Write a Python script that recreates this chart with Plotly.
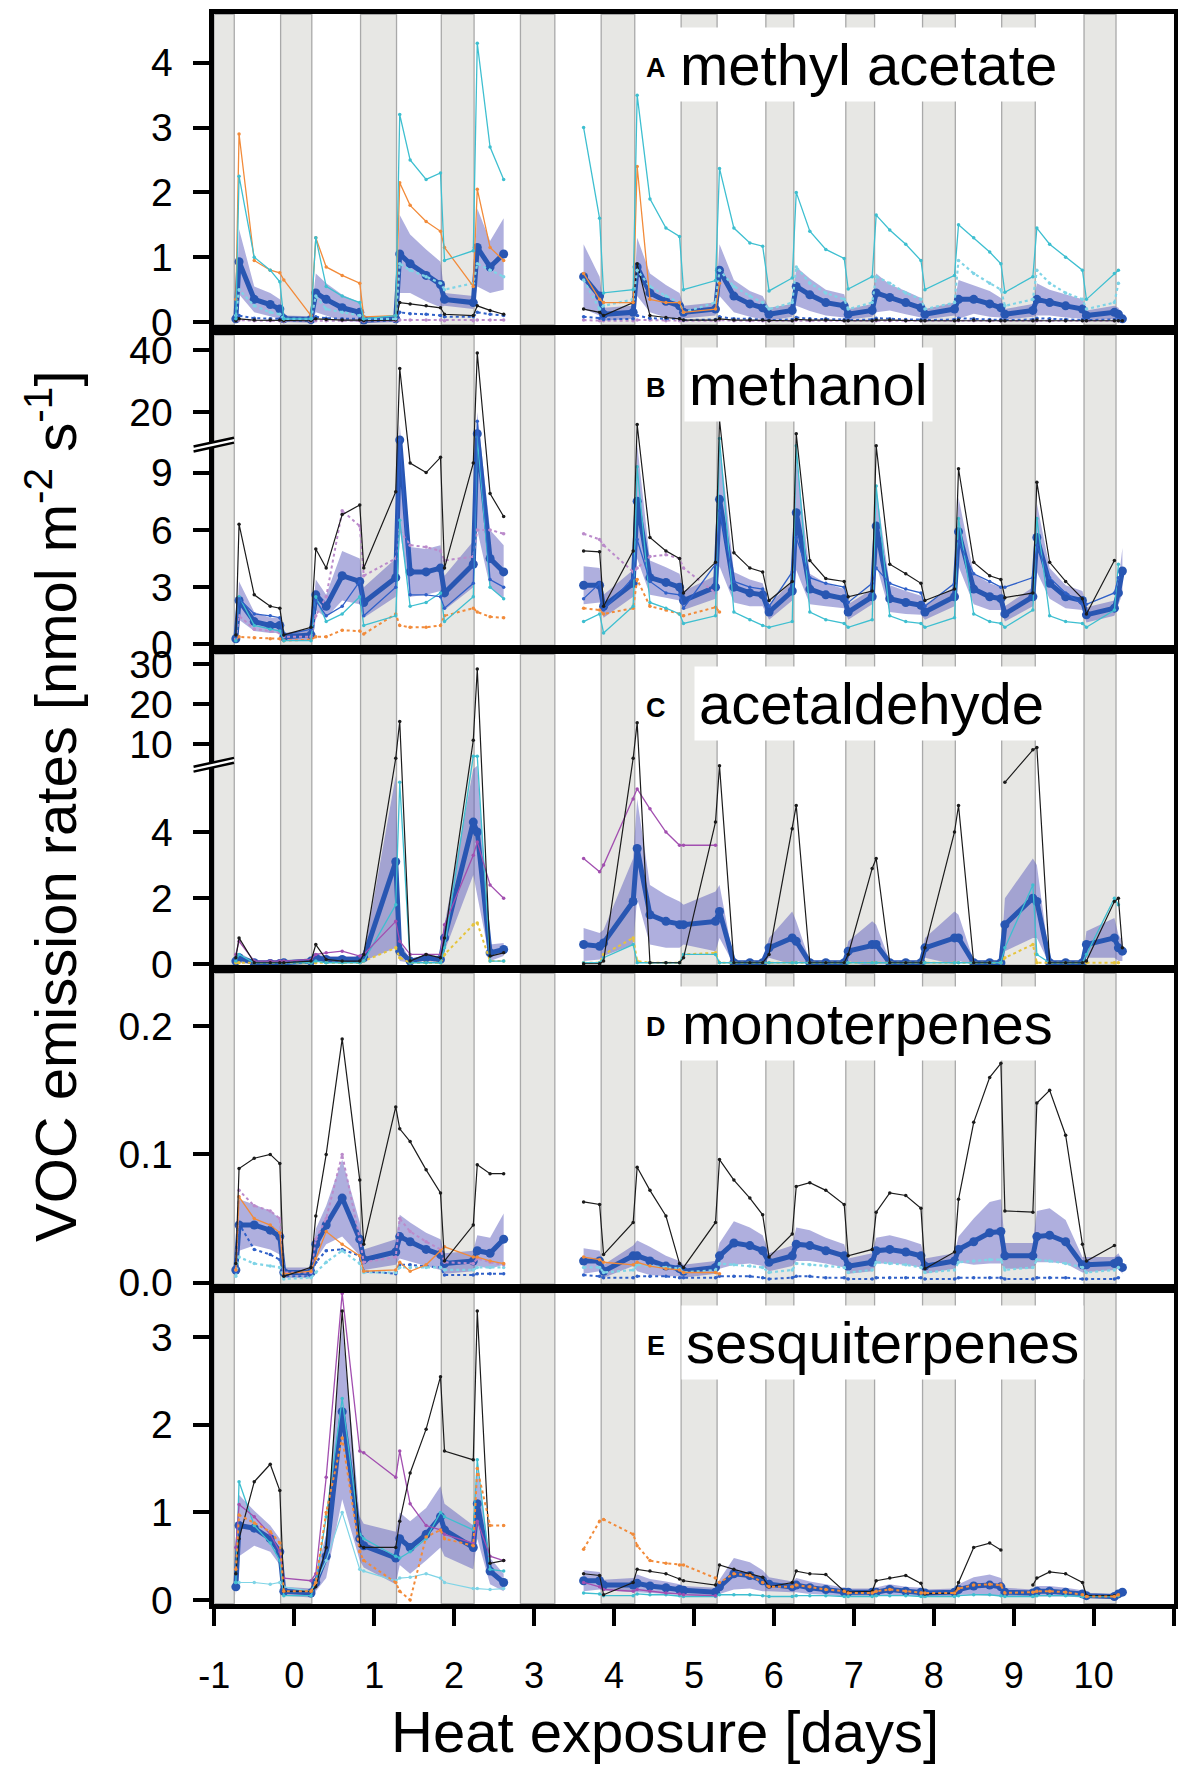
import plotly.graph_objects as go

# sampling times [days of heat exposure]; rows = one day cycle each
# (pre-dawn, dawn peak, +0.2, +0.4, pre-dusk, post-dusk)
days = [
    -0.73, -0.69, -0.5, -0.3, -0.18, -0.13,
    0.21, 0.27, 0.4, 0.6, 0.82, 0.87,
    1.27, 1.32, 1.45, 1.65, 1.83, 1.88,
    2.24, 2.29, 2.45, 2.62,
    3.62, 3.82, 3.87,
    4.24, 4.29, 4.45, 4.65, 4.82, 4.87,
    5.27, 5.32, 5.5, 5.7, 5.86, 5.94,
    6.23, 6.28, 6.45, 6.65, 6.88, 6.93,
    7.23, 7.28, 7.45, 7.65, 7.84, 7.89,
    8.26, 8.31, 8.5, 8.7, 8.84, 8.89,
    9.24, 9.29, 9.45, 9.65, 9.86, 9.91,
    10.26, 10.31, 10.36,
]

# dark periods
nights = [(-1.0, -0.75), (-0.17, 0.22), (0.83, 1.28), (1.84, 2.25), (2.83, 3.26),
          (3.84, 4.26), (4.84, 5.29), (5.9, 6.25), (6.9, 7.26), (7.86, 8.27),
          (8.85, 9.27), (9.88, 10.28)]

# ---------------- A  methyl acetate ----------------
ma_mean = [
    0.05, 0.93, 0.35, 0.27, 0.2, 0.05,
    0.04, 0.45, 0.35, 0.22, 0.15, 0.03,
    0.05, 1.05, 0.9, 0.72, 0.58, 0.35,
    0.3, 1.15, 0.85, 1.05,
    0.7, 0.4, 0.12,
    0.15, 0.85, 0.45, 0.32, 0.25, 0.15,
    0.2, 0.8, 0.4, 0.28, 0.22, 0.12,
    0.18, 0.55, 0.42, 0.3, 0.25, 0.12,
    0.18, 0.45, 0.38, 0.3, 0.22, 0.12,
    0.2, 0.35, 0.35, 0.28, 0.22, 0.12,
    0.18, 0.35, 0.3, 0.25, 0.2, 0.1,
    0.15, 0.12, 0.05,
]
ma_sd = [
    0.05, 0.5, 0.2, 0.18, 0.15, 0.05,
    0.05, 0.3, 0.25, 0.2, 0.15, 0.05,
    0.05, 0.6, 0.45, 0.4, 0.35, 0.1,
    0.1, 0.6, 0.4, 0.55,
    0.5, 0.3, 0.1,
    0.1, 0.45, 0.3, 0.25, 0.2, 0.1,
    0.1, 0.4, 0.25, 0.2, 0.18, 0.1,
    0.1, 0.3, 0.25, 0.2, 0.18, 0.08,
    0.1, 0.3, 0.2, 0.18, 0.15, 0.08,
    0.1, 0.3, 0.22, 0.2, 0.15, 0.08,
    0.1, 0.25, 0.2, 0.18, 0.15, 0.08,
    0.1, 0.1, 0.05,
]
ma_cyan = [
    0.05, 2.25, 1.0, 0.8, 0.62, 0.05,
    0.05, 1.3, 0.55, 0.4, 0.3, 0.05,
    0.1, 3.2, 2.5, 2.2, 2.3, 0.95,
    1.1, 4.3, 2.7, 2.2,
    3.0, 1.6, 0.45,
    0.5, 3.5, 1.9, 1.45, 1.32, 0.5,
    0.64, 2.37, 1.45, 1.22, 1.17, 0.48,
    0.68, 2.0, 1.4, 1.12, 0.98, 0.51,
    0.7, 1.65, 1.42, 1.2, 0.95, 0.5,
    0.72, 1.5, 1.3, 1.08, 0.9, 0.46,
    0.7, 1.45, 1.2, 1.0, 0.8, 0.35,
    0.75, 0.8, None,
]
ma_lcyan = [
    0.1, 0.5, 0.25, 0.15, 0.12, 0.05,
    0.05, 0.4, 0.2, 0.15, 0.1, 0.05,
    0.05, 0.9, 0.8, 0.7, 0.6, 0.5,
    0.6, 0.9, 0.8, 0.7,
    0.65, 0.2, 0.25,
    0.35, 0.8, 0.55, 0.4, 0.3, 0.15,
    0.3, 0.8, 0.55, 0.4, 0.3, 0.2,
    0.3, 0.85, 0.6, 0.45, 0.35, 0.2,
    0.3, 0.7, 0.6, 0.45, 0.35, 0.2,
    0.3, 0.95, 0.75, 0.6, 0.5, 0.25,
    0.35, 0.8, 0.6, 0.45, 0.35, 0.2,
    0.3, 0.6, None,
]
ma_orange = [
    0.35, 2.9, 0.95, 0.8, 0.76, 0.65,
    0.1, 1.3, 0.85, 0.72, 0.6, 0.08,
    0.1, 2.15, 1.8, 1.55, 1.4, 1.15,
    0.55, 2.05, 1.15, 0.95,
    0.75, 0.35, 0.3,
    0.3, 2.4, 0.35, 0.3, 0.3, 0.15,
    0.2, 0.6,
]
ma_black = [
    0.02, 0.05, 0.03, 0.03, 0.03, 0.02,
    0.02, 0.05, 0.04, 0.03, 0.03, 0.02,
    0.03, 0.3, 0.28, 0.25, 0.22, 0.12,
    0.1, 0.25, 0.18, 0.12,
    0.2, 0.15, 0.1,
    0.3, 0.9, 0.1, 0.07, 0.05, 0.03,
    0.03, 0.05, 0.03, 0.03, 0.03, 0.02,
    0.02, 0.04, 0.03, 0.03, 0.02, 0.02,
    0.02, 0.03, 0.03, 0.02, 0.02, 0.02,
    0.02, 0.03, 0.03, 0.02, 0.02, 0.02,
    0.02, 0.03, 0.02, 0.02, 0.02, 0.02,
    0.02, 0.02, 0.02,
]
ma_blue = [
    0.03, 0.1, 0.06, 0.05, 0.05, 0.03,
    0.03, 0.08, 0.06, 0.05, 0.05, 0.03,
    0.05, 0.15, 0.13, 0.12, 0.1, 0.08,
    0.08, 0.15, 0.12, 0.1,
    0.08, 0.06, 0.04,
    0.05, 0.1, 0.06, 0.05, 0.05, 0.03,
    0.04, 0.08, 0.05, 0.05, 0.04, 0.03,
    0.04, 0.07, 0.05, 0.05, 0.04, 0.03,
    0.04, 0.06, 0.05, 0.04, 0.04, 0.03,
    0.04, 0.06, 0.05, 0.04, 0.04, 0.03,
    0.04, 0.06, 0.05, 0.04, 0.04, 0.03,
    0.04, 0.04, 0.03,
]
ma_purple = [
    0.02, 0.03, 0.02, 0.02, 0.02, 0.01,
    0.01, 0.02, 0.02, 0.02, 0.02, 0.01,
    0.02, 0.03, 0.03, 0.03, 0.03, 0.02,
    0.02, 0.03, 0.03, 0.03,
    0.03, 0.02, 0.02,
    0.02, 0.03, 0.03, 0.02, 0.02, 0.02,
    0.02, 0.03, 0.02, 0.02, 0.02, 0.02,
    0.02, 0.03, 0.02, 0.02, 0.02, 0.02,
    0.02, 0.02, 0.02, 0.02, 0.02, 0.02,
    0.02, 0.02, 0.02, 0.02, 0.02, 0.02,
    0.02, 0.02, 0.02, 0.02, 0.02, 0.02,
    0.02, 0.02, None,
]

# ---------------- B  methanol ----------------
meoh_mean = [
    0.3, 2.3, 1.2, 1.0, 1.0, 0.4,
    0.5, 2.6, 2.0, 3.6, 3.3, 2.2,
    3.5, 11.0, 3.8, 3.8, 4.0, 2.7,
    4.2, 13.0, 4.5, 3.8,
    3.1, 3.1, 2.0,
    3.2, 7.5, 3.5, 3.25, 3.0, 2.3,
    3.0, 7.6, 3.0, 2.7, 2.6, 1.7,
    2.8, 6.9, 2.9, 2.6, 2.4, 1.7,
    2.5, 6.2, 2.4, 2.2, 2.05, 1.7,
    2.5, 5.9, 2.9, 2.5, 2.4, 1.6,
    2.5, 5.6, 3.2, 2.5, 2.3, 1.55,
    1.9, 2.7, 3.85,
]
meoh_sd = [
    0.2, 1.0, 0.5, 0.4, 0.4, 0.2,
    0.3, 0.8, 0.6, 1.3, 1.2, 0.8,
    1.0, 5.0, 1.3, 1.2, 1.2, 0.9,
    1.2, 7.0, 1.5, 1.4,
    1.0, 0.9, 0.6,
    0.7, 3.0, 0.9, 0.8, 0.7, 0.5,
    0.6, 3.5, 0.8, 0.7, 0.6, 0.4,
    0.5, 3.0, 0.8, 0.6, 0.5, 0.4,
    0.4, 2.0, 0.7, 0.6, 0.5, 0.4,
    0.5, 1.8, 0.8, 0.7, 0.6, 0.4,
    0.5, 1.8, 0.8, 0.6, 0.5, 0.4,
    0.4, 0.6, 1.2,
]
meoh_black = [
    0.5, 6.3, 2.6, 2.0, 1.9, 0.5,
    0.9, 5.0, 4.0, 6.8, 7.3, 4.0,
    8.0, 34.0, 9.5, 9.0, 9.8, 4.0,
    9.5, 39.0, 7.9, 6.7,
    4.9, 4.85, 2.0,
    4.9, 16.0, 5.6, 4.9, 4.5, 2.7,
    4.3, 17.5, 4.8, 4.0, 3.8, 2.3,
    3.3, 13.0, 4.4, 3.45, 3.3, 2.5,
    2.8, 10.4, 4.2, 3.7, 3.2, 2.3,
    2.9, 9.2, 4.3, 3.6, 3.4, 2.45,
    2.7, 8.5, 4.3, 3.3, 2.4, 1.6,
    4.4, None, None,
]
meoh_cyan = [
    0.2, 2.5, 1.0, 0.8, 0.7, 0.2,
    0.2, 2.5, 1.2, 1.6, 2.5, 1.0,
    1.5, 6.5, 2.0, 2.2, 2.7, 1.2,
    2.5, 12.0, 3.0, 2.4,
    1.2, 1.6, 0.6,
    2.0, 9.3, 2.2, 1.9, 1.6, 1.1,
    1.5, 11.5, 1.7, 1.3, 1.0, 0.9,
    1.2, 10.4, 1.7, 1.3, 1.1, 0.9,
    1.3, 8.3, 1.5, 1.2, 1.1, 0.9,
    1.4, 6.6, 1.6, 1.2, 1.1, 0.9,
    1.8, 6.6, 1.5, 1.2, 1.1, 0.9,
    1.8, 4.2, None,
]
meoh_blue = [
    0.4, 2.4, 1.6, 1.5, 1.4, 0.5,
    0.8, 2.3, 1.5, 2.0, 3.3, 1.5,
    3.0, 11.0, 2.6, 2.6, 2.5, 1.9,
    3.2, 17.0, 3.4, 3.0,
    2.4, 3.2, 1.8,
    3.5, 5.5, 3.3, 2.7, 2.6, 1.9,
    4.2, 7.0, 3.3, 3.0, 2.9, 2.0,
    3.8, 5.6, 3.5, 3.2, 3.0, 2.2,
    3.2, 4.0, 3.2, 2.9, 2.7, 2.0,
    3.2, 5.4, 3.7, 3.3, 3.0, 3.0,
    3.5, 5.2, 3.5, 2.7, 2.1, 2.1,
    2.7, 3.5, None,
]
meoh_orange = [
    0.3, 0.4, 0.35, 0.3, 0.3, 0.2,
    0.25, 0.4, 0.4, 0.75, 0.7, 0.55,
    1.6, 1.0, 0.9, 0.9, 1.0, 1.5,
    1.9, 1.7, 1.45, 1.4,
    1.9, 1.8, 1.6,
    1.9, 3.4, 2.0, 1.8, 1.6, 1.5,
    1.95, 1.7,
]
meoh_purple = [
    0.3, 1.5, 0.8, 0.7, 0.6, 0.4,
    0.4, 1.5, 2.5, 7.0, 6.2, 3.6,
    4.5, 6.0, 5.2, 5.1, 4.9, 4.4,
    4.6, 6.0, 6.0, 5.8,
    5.8, 5.5, 5.2,
    3.8, 4.0, 4.6, 4.7, 4.5, 4.0,
    2.7,
]

# ---------------- C  acetaldehyde ----------------
acet_mean = [
    0.1, 0.2, 0.05, 0.03, 0.03, 0.05,
    0.1, 0.2, 0.15, 0.15, 0.15, 0.2,
    3.1, 0.4, 0.1, 0.2, 0.15, 0.8,
    4.3, 4.0, 0.35, 0.45,
    0.6, 0.55, 0.65,
    1.9, 3.5, 1.5, 1.3, 1.2, 1.2,
    1.3, 1.6, 0.05, 0.05, 0.05, 0.5,
    0.8, 0.7, 0.05, 0.05, 0.05, 0.4,
    0.6, 0.6, 0.05, 0.05, 0.05, 0.5,
    0.8, 0.8, 0.05, 0.05, 0.05, 1.2,
    2.0, 1.9, 0.05, 0.05, 0.05, 0.6,
    0.8, 0.5, 0.4,
]
acet_sd = [
    0.1, 0.15, 0.05, 0.05, 0.05, 0.05,
    0.05, 0.1, 0.1, 0.1, 0.1, 0.1,
    2.6, 0.3, 0.05, 0.1, 0.1, 0.4,
    1.6, 2.0, 0.25, 0.2,
    0.5, 0.4, 0.4,
    1.3, 1.5, 0.9, 0.8, 0.7, 0.6,
    0.9, 0.8, 0.05, 0.05, 0.05, 0.3,
    0.8, 0.6, 0.05, 0.05, 0.05, 0.3,
    0.7, 0.6, 0.05, 0.05, 0.05, 0.3,
    0.8, 0.7, 0.05, 0.05, 0.05, 0.8,
    1.2, 1.1, 0.05, 0.05, 0.05, 0.4,
    0.6, 0.4, 0.3,
]
acet_black = [
    0.2, 0.8, 0.05, 0.05, 0.05, 0.05,
    0.1, 0.6, 0.15, 0.1, 0.1, 0.3,
    6.5, 15.7, 0.1, 0.3, 0.2, 0.8,
    11.0, 28.8, 0.25, 0.35,
    0.02, 0.02, 0.1,
    6.5, 15.4, 0.05, 0.05, 0.05, 0.2,
    4.3, 6.0, 0.05, 0.05, 0.05, 0.3,
    4.1, 4.8, 0.05, 0.05, 0.05, 0.3,
    2.9, 3.2, 0.05, 0.05, 0.05, 0.5,
    4.0, 4.8, 0.05, 0.05, None, 5.5,
    8.6, 9.2, 0.05, 0.05, 0.05, 0.1,
    1.9, 2.0, 0.5,
]
acet_purple = [
    0.3, 0.7, 0.1, 0.1, 0.1, 0.1,
    0.15, 0.3, 0.35, 0.4, 0.25, 0.3,
    1.3, 0.7, 0.3, 0.3, 0.3, 1.2,
    3.3, 3.7, 2.4, 2.0,
    3.2, 2.8, 3.0,
    5.0, 5.3, 4.7, 4.0, 3.6, 3.6,
    3.6,
]
acet_cyan = [
    0.1, 0.3, 0.05, 0.05, 0.05, 0.05,
    0.05, 0.1, 0.05, 0.05, 0.05, 0.1,
    1.8, 5.5, 0.05, 0.05, 0.05, 0.5,
    7.0, 7.0, 0.1, 0.1,
    0.05, 0.05, 0.2,
    0.6, 0.05, 0.05, 0.05, 0.05, 0.3,
    0.3, 0.05, 0.05, 0.05, 0.05, 0.05,
    0.05, 0.05, 0.05, 0.05, 0.05, 0.05,
    0.05, 0.05, 0.05, 0.05, 0.05, 0.05,
    0.05, 0.05, 0.05, 0.05, 0.05, 0.5,
    2.4, 0.3, 0.05, 0.05, 0.05, 0.3,
    2.0, 1.8, None,
]
acet_yellow = [
    0.05, 0.05, 0.05, 0.05, 0.05, 0.05,
    0.05, 0.05, 0.05, 0.05, 0.05, 0.1,
    0.5, 0.2, 0.05, 0.05, 0.05, 0.3,
    1.2, 1.25, 0.1, 0.1,
    0.05, 0.05, 0.3,
    0.8, 0.1, 0.05, 0.05, 0.05, 0.3,
    0.35, 0.05, 0.05, 0.05, 0.05, 0.05,
    0.05, 0.05, 0.05, 0.05, 0.05, 0.05,
    0.05, 0.05, 0.05, 0.05, 0.05, 0.05,
    0.05, 0.05, 0.05, 0.05, 0.05, 0.2,
    0.6, 0.05, 0.05, 0.05, 0.05, 0.05,
    0.05, 0.05, None,
]

# ---------------- D  monoterpenes ----------------
mt_mean = [
    0.01, 0.045, 0.045, 0.041, 0.036, 0.008,
    0.008, 0.03, 0.045, 0.066, 0.034, 0.018,
    0.024, 0.036, 0.032, 0.026, 0.022, 0.015,
    0.017, 0.025, 0.023, 0.034,
    0.017, 0.017, 0.009,
    0.021, 0.021, 0.017, 0.013, 0.011, 0.009,
    0.012, 0.021, 0.031, 0.029, 0.025, 0.016,
    0.021, 0.03, 0.029, 0.025, 0.021, 0.013,
    0.016, 0.025, 0.026, 0.024, 0.021, 0.013,
    0.017, 0.026, 0.032, 0.039, 0.04, 0.021,
    0.021, 0.036, 0.037, 0.032, 0.014, 0.014,
    0.015, 0.017, 0.012,
]
mt_sd = [
    0.005, 0.02, 0.016, 0.015, 0.014, 0.004,
    0.004, 0.012, 0.015, 0.03, 0.013, 0.008,
    0.01, 0.017, 0.015, 0.013, 0.012, 0.008,
    0.008, 0.012, 0.012, 0.02,
    0.01, 0.008, 0.005,
    0.008, 0.012, 0.011, 0.008, 0.006, 0.005,
    0.005, 0.01, 0.017, 0.014, 0.012, 0.007,
    0.008, 0.013, 0.012, 0.01, 0.009, 0.006,
    0.007, 0.01, 0.011, 0.01, 0.009, 0.006,
    0.006, 0.01, 0.018, 0.024, 0.025, 0.01,
    0.01, 0.02, 0.021, 0.017, 0.006, 0.006,
    0.005, 0.006, 0.005,
]
mt_black = [
    0.015, 0.089, 0.097, 0.1, 0.093, 0.005,
    0.012, 0.052, 0.1, 0.19, 0.08, 0.03,
    0.137, 0.12, 0.11, 0.088, 0.07, 0.017,
    0.045, 0.092, 0.085, 0.085,
    0.063, 0.061, 0.022,
    0.047, 0.09, 0.072, 0.052, 0.015, 0.012,
    0.047, 0.096, 0.08, 0.066, 0.053, 0.02,
    0.038, 0.075, 0.078, 0.072, 0.061, 0.021,
    0.026, 0.055, 0.07, 0.068, 0.058, 0.011,
    0.024, 0.065, 0.125, 0.16, 0.171, 0.056,
    0.055, 0.14, 0.15, 0.115, 0.03, 0.017,
    0.029, None, None,
]
mt_orange = [
    0.01, 0.067, 0.05, 0.045, 0.039, 0.007,
    0.009, 0.019, 0.04, 0.03, 0.021, 0.009,
    0.01, 0.016, 0.009, 0.014, 0.025, 0.028,
    0.02, 0.02, 0.017, 0.015,
    0.02, 0.018, 0.016,
    0.014, 0.016, 0.013, 0.011, 0.01, 0.008,
    0.008, 0.007,
]
mt_purple = [
    0.01, 0.072, 0.06, 0.056, 0.05, 0.008,
    0.008, 0.034, 0.05, 0.1, 0.034, 0.016,
    0.02, 0.05, 0.04, 0.032, 0.026, 0.016,
    0.015, 0.019, 0.016, 0.014,
]
mt_cyan = [
    0.005, 0.02, 0.015, 0.013, 0.012, 0.003,
    0.004, 0.008, 0.016, 0.025, 0.015, 0.008,
    0.008, 0.012, 0.012, 0.012, 0.012, 0.01,
    0.01, 0.012, 0.012, 0.012,
    0.012, 0.012, 0.008,
    0.01, 0.014, 0.013, 0.012, 0.011, 0.008,
    0.01, 0.015, 0.014, 0.013, 0.012, 0.008,
    0.01, 0.015, 0.014, 0.013, 0.012, 0.008,
    0.01, 0.016, 0.015, 0.014, 0.012, 0.008,
    0.01, 0.016, 0.017, 0.018, 0.018, 0.01,
    0.012, 0.018, 0.017, 0.015, 0.012, 0.008,
    0.01, 0.012, None,
]
mt_blue = [
    0.008, 0.046, 0.026, 0.022, 0.018, 0.005,
    0.005, 0.016, 0.025, 0.026, 0.021, 0.009,
    0.007, 0.014, 0.014, 0.013, 0.012, 0.006,
    0.006, 0.007, 0.007, 0.007,
    0.006, 0.005, 0.004,
    0.004, 0.005, 0.005, 0.005, 0.004, 0.004,
    0.004, 0.005, 0.005, 0.005, 0.004, 0.003,
    0.004, 0.005, 0.005, 0.004, 0.004, 0.003,
    0.003, 0.004, 0.004, 0.004, 0.004, 0.003,
    0.003, 0.004, 0.004, 0.004, 0.004, 0.003,
    0.003, 0.004, 0.004, 0.004, 0.003, 0.003,
    0.003, 0.004, None,
]

# ---------------- E  sesquiterpenes ----------------
sqt_mean = [
    0.15, 0.85, 0.82, 0.7, 0.55, 0.1,
    0.08, 0.2, 0.5, 2.15, 0.7, 0.62,
    0.48, 0.7, 0.6, 0.75, 0.95, 0.8,
    0.6, 1.1, 0.33, 0.2,
    0.22, 0.22, 0.17,
    0.17, 0.19, 0.16, 0.14, 0.12, 0.11,
    0.09, 0.15, 0.3, 0.28, 0.22, 0.18,
    0.15, 0.17, 0.14, 0.12, 0.09, 0.09,
    0.09, 0.09, 0.12, 0.1, 0.09, 0.08,
    0.09, 0.12, 0.16, 0.17, 0.15, 0.09,
    0.08, 0.1, 0.1, 0.09, 0.07, 0.05,
    0.04, 0.07, 0.09,
]
sqt_sd = [
    0.1, 0.35, 0.2, 0.15, 0.15, 0.05,
    0.05, 0.1, 0.25, 1.0, 0.25, 0.25,
    0.3, 0.3, 0.3, 0.3, 0.35, 0.3,
    0.25, 0.4, 0.15, 0.1,
    0.12, 0.1, 0.06,
    0.08, 0.1, 0.08, 0.07, 0.06, 0.05,
    0.05, 0.08, 0.18, 0.15, 0.12, 0.08,
    0.06, 0.08, 0.07, 0.06, 0.05, 0.04,
    0.04, 0.05, 0.06, 0.05, 0.05, 0.04,
    0.04, 0.06, 0.1, 0.12, 0.1, 0.05,
    0.04, 0.06, 0.06, 0.05, 0.04, 0.03,
    0.03, 0.04, 0.04,
]
sqt_black = [
    0.3, 0.7, 1.35, 1.55, 1.25, 0.1,
    0.1, 0.15, 0.6, 3.3, 0.62, 0.6,
    0.6, 0.9, 1.45, 1.95, 2.55, 1.7,
    1.6, 3.3, 0.42, 0.45,
    0.3, 0.28, 0.06,
    0.2, 0.35, 0.33, 0.3, 0.24, 0.22,
    0.17, 0.4, 0.35, 0.3, 0.26, 0.15,
    0.2, 0.33, 0.3, 0.29, 0.1, 0.09,
    0.1, 0.22, 0.25, 0.28, 0.19, 0.07,
    0.08, 0.2, 0.6, 0.65, 0.57, None,
    0.17, 0.25, 0.32, 0.3, 0.2, 0.05,
    0.05, None, None,
]
sqt_orange = [
    0.35, 0.97, 0.88, 0.78, 0.65, 0.1,
    0.1, 0.2, 1.0, 1.85, 0.55, 0.45,
    0.2, 0.1, 0.0, 0.72, 0.8, 0.7,
    0.62, 1.5, 0.85, 0.85,
    0.58, 0.9, 0.92,
    0.75, 0.62, 0.45, 0.42, 0.4, 0.4,
    0.25, 0.2, 0.3, 0.28, 0.2, 0.15,
    0.15, 0.17, 0.15, 0.12, 0.1, 0.08,
    0.08, 0.1, 0.12, 0.1, 0.08, 0.08,
    0.08, 0.13, 0.17, 0.18, 0.17, 0.08,
    0.09, 0.1, 0.1, 0.09, 0.06, 0.04,
    0.04, 0.06, None,
]
sqt_purple = [
    0.6, 1.09, 0.95, 0.75, 0.55, 0.25,
    0.22, 0.3, 1.4, 3.5, 1.7, 1.68,
    1.4, 1.7, 1.1, 0.85, 0.8, 0.75,
    0.65, 0.9, 0.5, 0.45,
    0.2, 0.15, 0.12,
    0.1, 0.12, 0.1, 0.08, 0.07, 0.06,
    0.05,
]
sqt_cyan = [
    0.2, 1.35, 0.85, 0.65, 0.45, 0.05,
    0.05, 0.2, 0.95, 2.3, 0.75, 0.7,
    0.5, 0.48, 0.55, 0.7, 1.0, 0.95,
    0.8, 1.6, 0.35, 0.33,
    0.08, 0.07, 0.05,
    0.05, 0.07, 0.06, 0.06, 0.05, 0.04,
    0.04, 0.06, 0.06, 0.06, 0.05, 0.04,
    0.04, 0.05, 0.05, 0.05, 0.04, 0.04,
    0.04, 0.05, 0.05, 0.05, 0.04, 0.04,
    0.04, 0.05, 0.06, 0.06, 0.05, 0.04,
    0.04, 0.05, 0.05, 0.05, 0.04, 0.04,
    0.04, 0.05, None,
]
sqt_lcyan = [
    0.2, 0.2, 0.2, 0.18, 0.2, 0.15,
    0.1, 0.2, 0.45, 1.0, 0.35, 0.33,
    0.22, 0.25, 0.26, 0.3, 0.25, 0.2,
    0.13, 0.13, 0.12, 0.13,
]

# ---------------------------------------------------------------
W, H = 1178, 1786
X0, X1 = 201, 1173.5
FONT = "Liberation Sans, Arial, sans-serif"

BLACK = "#1b1b1b"
CYAN = "#3ebfd0"
LCYAN = "#7fd4e6"
ORANGE = "#f28b3a"
PURPLE = "#a24fb0"
LPURPLE = "#bb8bcb"
BLUE = "#2f60c8"
YELLOW = "#e6c43c"
MEAN = "#2856b2"
BAND = "rgba(96,96,190,0.5)"


def brk_b(v):
    # broken axis of methanol: compressed above 10.65
    if v is None:
        return None
    return v if v <= 10.65 else 10.65 + (v - 10.65) * 0.1627


def brk_c(v):
    # broken axis of acetaldehyde: compressed above 6.19
    if v is None:
        return None
    return v if v <= 6.19 else 6.19 + (v - 6.19) * 0.121


def ident(v):
    return v


panels = [
    dict(name="methyl acetate", letter="A", px=(3.5, 319.5), rng=[-0.042, 4.745], tf=ident,
         tickvals=[0, 1, 2, 3, 4], ticktext=["0", "1", "2", "3", "4"], lx=4.76,
         mean=ma_mean, sd=ma_sd,
         series=[(ma_purple, LPURPLE, "dot", 2.0), (ma_blue, BLUE, "dot", 2.0),
                 (ma_black, BLACK, "solid", 1.2), (ma_lcyan, LCYAN, "dot", 2.2),
                 (ma_orange, ORANGE, "solid", 1.3), (ma_cyan, CYAN, "solid", 1.3)]),
    dict(name="methanol", letter="B", px=(330, 646), rng=[-0.05, 16.2], tf=brk_b,
         tickvals=[0, 3, 6, 9, brk_b(20), brk_b(40)], ticktext=["0", "3", "6", "9", "20", "40"], lx=4.88,
         mean=meoh_mean, sd=meoh_sd,
         series=[(meoh_orange, ORANGE, "dot", 2.0), (meoh_purple, LPURPLE, "dot", 2.0),
                 (meoh_cyan, CYAN, "solid", 1.3), (meoh_blue, BLUE, "solid", 1.3),
                 (meoh_black, BLACK, "solid", 1.2)]),
    dict(name="acetaldehyde", letter="C", px=(655, 971.5), rng=[-0.021, 9.37], tf=brk_c,
         tickvals=[0, 2, 4, brk_c(10), brk_c(20), brk_c(30)], ticktext=["0", "2", "4", "10", "20", "30"], lx=5.0,
         mean=acet_mean, sd=acet_sd,
         series=[(acet_yellow, YELLOW, "dot", 2.0), (acet_cyan, CYAN, "solid", 1.3),
                 (acet_purple, PURPLE, "solid", 1.3), (acet_black, BLACK, "solid", 1.2)]),
    dict(name="monoterpenes", letter="D", px=(980, 1296.5), rng=[-0.00115, 0.241], tf=ident,
         tickvals=[0, 0.1, 0.2], ticktext=["0.0", "0.1", "0.2"], lx=4.79,
         mean=mt_mean, sd=mt_sd,
         series=[(mt_blue, BLUE, "dot", 2.0), (mt_cyan, LCYAN, "dot", 2.2),
                 (mt_purple, LPURPLE, "dot", 2.0), (mt_orange, ORANGE, "solid", 1.3),
                 (mt_black, BLACK, "solid", 1.2)]),
    dict(name="sesquiterpenes", letter="E", px=(1305, 1621.7), rng=[-0.0415, 3.509], tf=ident,
         tickvals=[0, 1, 2, 3], ticktext=["0", "1", "2", "3"], lx=4.84,
         mean=sqt_mean, sd=sqt_sd,
         series=[(sqt_lcyan, LCYAN, "solid", 1.2), (sqt_cyan, CYAN, "solid", 1.3),
                 (sqt_purple, PURPLE, "solid", 1.3), (sqt_black, BLACK, "solid", 1.2),
                 (sqt_orange, ORANGE, "dot", 2.0)]),
]


def with_gaps(vals, tf):
    xs, ys = [], []
    for i, v in enumerate(vals):
        if i >= len(days):
            break
        if i > 0 and days[i] - days[i - 1] > 0.5:
            xs.append(None)
            ys.append(None)
        xs.append(days[i])
        ys.append(tf(v))
    return xs, ys


def band_chunks(mean, sd):
    chunks, cur = [], []
    for i, m in enumerate(mean):
        if m is None or (cur and days[i] - days[cur[-1]] > 0.5):
            if cur:
                chunks.append(cur)
            cur = []
            if m is None:
                continue
        cur.append(i)
    if cur:
        chunks.append(cur)
    return chunks


fig = go.Figure()
shapes = []
annotations = []

for n, p in enumerate(panels, start=1):
    xa = "x" if n == 1 else f"x{n}"
    ya = "y" if n == 1 else f"y{n}"
    tf = p["tf"]

    # mean +- sd band
    for c in band_chunks(p["mean"], p["sd"]):
        bx = [days[i] for i in c] + [days[i] for i in reversed(c)]
        by = [tf(p["mean"][i] + p["sd"][i]) for i in c] + \
             [tf(p["mean"][i] - p["sd"][i]) for i in reversed(c)]
        fig.add_trace(go.Scatter(x=bx, y=by, xaxis=xa, yaxis=ya, mode="lines",
                                 fill="toself", fillcolor=BAND, line=dict(width=0),
                                 hoverinfo="skip", showlegend=False))

    # mean
    mx, my = with_gaps(p["mean"], tf)
    fig.add_trace(go.Scatter(x=mx, y=my, xaxis=xa, yaxis=ya, mode="lines+markers",
                             line=dict(color=MEAN, width=5),
                             marker=dict(color=MEAN, size=9),
                             showlegend=False))

    # individual trees
    for vals, col, dash, lw in p["series"]:
        sx, sy = with_gaps(vals, tf)
        fig.add_trace(go.Scatter(x=sx, y=sy, xaxis=xa, yaxis=ya, mode="lines+markers",
                                 line=dict(color=col, width=lw, dash=dash),
                                 marker=dict(color=col, size=3.5),
                                 showlegend=False))

    top, bot = p["px"]
    dom = [1 - bot / H, 1 - top / H]
    last = n == len(panels)
    fig.update_layout(**{
        ("xaxis" if n == 1 else f"xaxis{n}"): dict(
            domain=[X0 / W, X1 / W], range=[-1, 11], anchor=ya,
            showline=True, linewidth=4.5, linecolor="black", mirror=True,
            showgrid=False, zeroline=False,
            ticks="outside" if last else "", ticklen=18, tickwidth=4, tickcolor="black",
            tickvals=list(range(-1, 12)),
            ticktext=[str(v) for v in range(-1, 11)] + [" "],
            showticklabels=last, ticklabelstandoff=18,
            tickfont=dict(family=FONT, size=36, color="black")),
        ("yaxis" if n == 1 else f"yaxis{n}"): dict(
            domain=dom, range=p["rng"], anchor=xa,
            showline=True, linewidth=4.5, linecolor="black", mirror=True,
            showgrid=False, zeroline=False,
            ticks="outside", ticklen=17, tickwidth=4, tickcolor="black",
            tickvals=p["tickvals"], ticktext=p["ticktext"], ticklabelstandoff=12,
            tickfont=dict(family=FONT, size=39, color="black")),
    })

    for a, b in nights:
        shapes.append(dict(type="rect", xref=xa, yref=f"{ya} domain",
                           x0=a, x1=b, y0=0, y1=1, layer="below",
                           fillcolor="#e7e7e4", line=dict(color="#a9a9a9", width=1.3)))

    annotations.append(dict(text=f"<b>{p['letter']}</b>", xref=xa, yref=f"{ya} domain",
                            x=4.53, y=0.828, xanchor="center", yanchor="middle",
                            showarrow=False, font=dict(family=FONT, size=27, color="black")))
    annotations.append(dict(text=p["name"], xref=xa, yref=f"{ya} domain",
                            x=p["lx"], y=0.84, xanchor="left", yanchor="middle",
                            showarrow=False, bgcolor="white", borderpad=4,
                            font=dict(family=FONT, size=58, color="black")))

# axis break marks on the left frame (methanol, acetaldehyde)
for yc in (439, 765):
    pts = [(180, yc + 4.5), (221, yc - 4.5), (221, yc + 0.5), (180, yc + 9.5)]
    path = "M " + " L ".join(f"{x / W:.5f},{1 - y / H:.5f}" for x, y in pts) + " Z"
    shapes.append(dict(type="path", xref="paper", yref="paper", path=path,
                       fillcolor="white", line=dict(width=0), layer="above"))
    for (xa_, ya_), (xb_, yb_) in ((pts[0], pts[1]), (pts[3], pts[2])):
        shapes.append(dict(type="line", xref="paper", yref="paper",
                           x0=xa_ / W, y0=1 - ya_ / H, x1=xb_ / W, y1=1 - yb_ / H,
                           line=dict(color="black", width=2.5), layer="above"))

annotations.append(dict(text="VOC emission rates [nmol m<sup>-2</sup> s<sup>-1</sup>]",
                        xref="paper", yref="paper", x=36 / W, y=1 - 810 / H,
                        textangle=-90, showarrow=False, xanchor="center", yanchor="middle",
                        font=dict(family=FONT, size=58, color="black")))
annotations.append(dict(text="Heat exposure [days]", xref="paper", yref="paper",
                        x=658 / W, y=1 - 1752 / H, showarrow=False,
                        xanchor="center", yanchor="middle",
                        font=dict(family=FONT, size=58, color="black")))

fig.update_layout(width=W, height=H, margin=dict(l=0, r=0, t=0, b=0),
                  paper_bgcolor="white", plot_bgcolor="white",
                  shapes=shapes, annotations=annotations, showlegend=False,
                  hovermode=False)

# page body without default margin so the figure fills the window exactly
fig.write_html("out.html", config={"displayModeBar": False},
               post_script="document.body.style.margin='0';document.body.style.overflow='hidden';")
